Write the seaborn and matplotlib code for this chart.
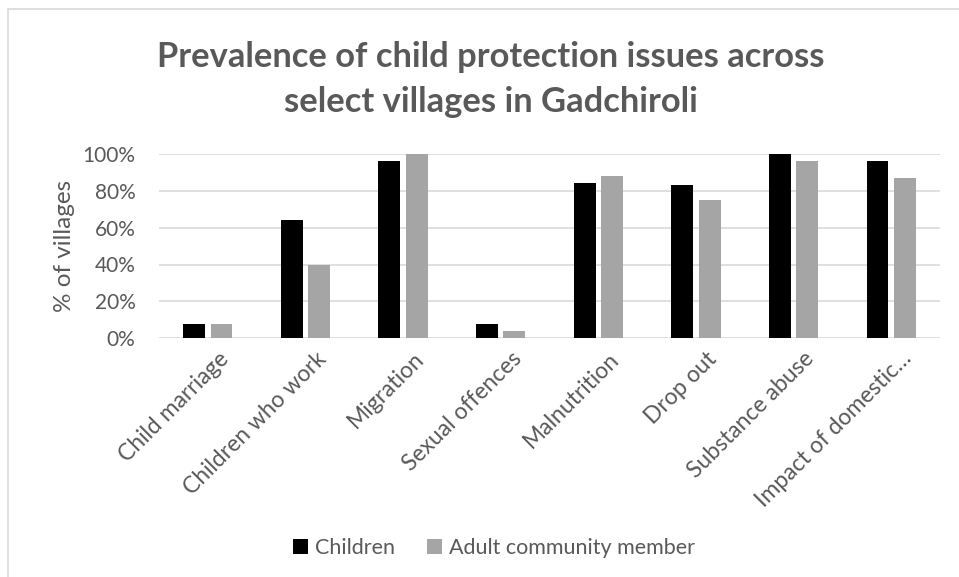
import matplotlib
matplotlib.use("Agg")
import matplotlib.pyplot as plt
import matplotlib.patches as mpatches
from matplotlib.transforms import ScaledTranslation
from matplotlib.ticker import PercentFormatter
import seaborn as sns
import pandas as pd

categories = ["Child marriage", "Children who work", "Migration", "Sexual offences",
              "Malnutrition", "Drop out", "Substance abuse", "Impact of domestic\u2026"]
children = [0.08, 0.64, 0.96, 0.08, 0.84, 0.83, 1.00, 0.96]
adults = [0.08, 0.40, 1.00, 0.04, 0.88, 0.75, 0.96, 0.87]
series = ["Children", "Adult community member"]
colors = ["#000000", "#A5A5A5"]
title_lines = ["Prevalence of child protection issues across", "select villages in Gadchiroli"]
y_label = "% of villages"

df = pd.DataFrame({
    "category": categories * 2,
    "value": children + adults,
    "series": [series[0]] * len(categories) + [series[1]] * len(categories),
})

sns.set_theme(style="white")
plt.rcParams["font.family"] = ["Lato", "DejaVu Sans"]

W, H = 959, 577
fig = plt.figure(figsize=(W / 100, H / 100), dpi=100)

# chart border (only left and top edges visible in the crop)
fig.add_artist(mpatches.Rectangle((8 / W, -0.05), 1.1, 1 - 9 / H + 0.05,
                                  transform=fig.transFigure, fill=False,
                                  edgecolor="#D9D9D9", linewidth=1.2))

ax_l, ax_r, ax_t, ax_b = 159, 940, 153.8, 338.3
ax = fig.add_axes([ax_l / W, 1 - ax_b / H, (ax_r - ax_l) / W, (ax_b - ax_t) / H])

sns.barplot(data=df, x="category", y="value", hue="series", hue_order=series,
            palette=colors, width=0.56, gap=0.2, linewidth=0, ax=ax, legend=False)

ax.set_ylim(0, 1)
ax.set_xlim(-0.5, len(categories) - 0.5)
ax.set_yticks([0, 0.2, 0.4, 0.6, 0.8, 1.0])
ax.yaxis.set_major_formatter(PercentFormatter(1.0, decimals=0))
ax.grid(axis="y", color="#D9D9D9", linewidth=1.2)
ax.set_axisbelow(True)
for s in ax.spines.values():
    s.set_visible(False)
ax.set_xlabel("")
ax.set_ylabel(y_label, fontsize=17.5, color="#595959", labelpad=5)
ax.tick_params(axis="y", length=0, pad=17, labelsize=15, labelcolor="#595959")
ax.tick_params(axis="x", length=0, pad=7, labelsize=16.5, labelcolor="#595959")
ax.set_xticks(range(len(categories)))
ax.set_xticklabels(categories, rotation=45, ha="right", va="top", rotation_mode="anchor")
offset = ScaledTranslation(10 / 100, 0, fig.dpi_scale_trans)
for lbl in ax.get_xticklabels():
    lbl.set_transform(lbl.get_transform() + offset)

# title
fig.text(491 / W, 1 - 67 / H, title_lines[0], ha="center", va="baseline",
         fontsize=24.8, fontweight="bold", color="#595959")
fig.text(491 / W, 1 - 112 / H, title_lines[1], ha="center", va="baseline",
         fontsize=24.8, fontweight="bold", color="#595959")

# legend
handles = [mpatches.Patch(facecolor=c, edgecolor="none", label=s) for s, c in zip(series, colors)]
fig.legend(handles=handles, loc="center", bbox_to_anchor=(494 / W, 1 - 548 / H), ncol=2,
           frameon=False, fontsize=15.5, handlelength=0.7, handleheight=0.7,
           handletextpad=0.3, columnspacing=1.5, labelcolor="#595959")

fig.savefig("out.png", dpi=100)
